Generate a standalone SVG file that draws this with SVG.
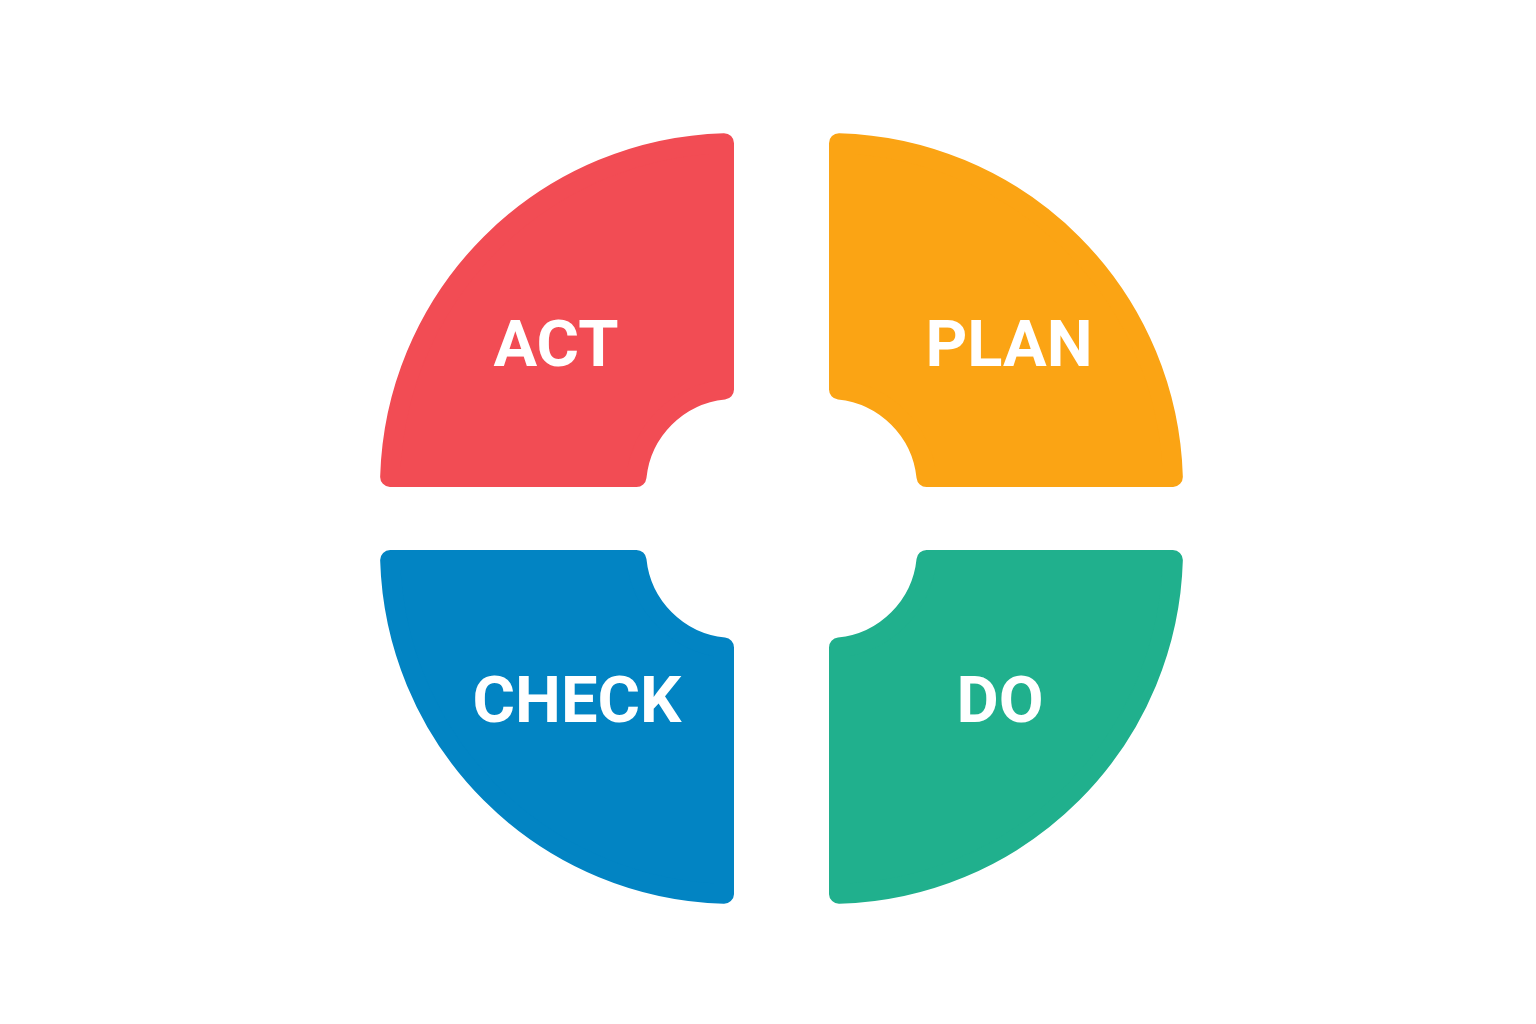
<svg xmlns="http://www.w3.org/2000/svg" width="1536" height="1024" viewBox="0 0 1536 1024">
<style>
.q{stroke-width:20;stroke-linejoin:round}
.act{fill:#F24C54;stroke:#F24C54}
.plan{fill:#FBA414;stroke:#FBA414}
.check{fill:#0284C3;stroke:#0284C3}
.do{fill:#20B08D;stroke:#20B08D}
.lbl{font-family:Roboto,"Liberation Sans",sans-serif;font-weight:700;font-size:65px;fill:#FFFFFF;text-anchor:middle}
</style>
<rect width="1536" height="1024" fill="#FFFFFF"/>
<g id="act">
<path class="q act" d="M 724 389.5 L 724 143.15 A 344 344 0 0 0 390.15 477 L 636.5 477 A 98 98 0 0 1 724 389.5 Z"/>
<text class="lbl" x="556" y="366">ACT</text>
</g>
<g id="plan">
<path class="q plan" d="M 839 389.5 L 839 143.15 A 344 344 0 0 1 1172.85 477 L 926.5 477 A 98 98 0 0 0 839 389.5 Z"/>
<text class="lbl" x="1009" y="366">PLAN</text>
</g>
<g id="check">
<path class="q check" d="M 636.5 560 L 390.15 560 A 344 344 0 0 0 724 893.85 L 724 647.5 A 98 98 0 0 1 636.5 560 Z"/>
<text class="lbl" x="577" y="722">CHECK</text>
</g>
<g id="do">
<path class="q do" d="M 926.5 560 L 1172.85 560 A 344 344 0 0 1 839 893.85 L 839 647.5 A 98 98 0 0 0 926.5 560 Z"/>
<text class="lbl" x="1000" y="722">DO</text>
</g>
<g id="connectors"></g>
</svg>
